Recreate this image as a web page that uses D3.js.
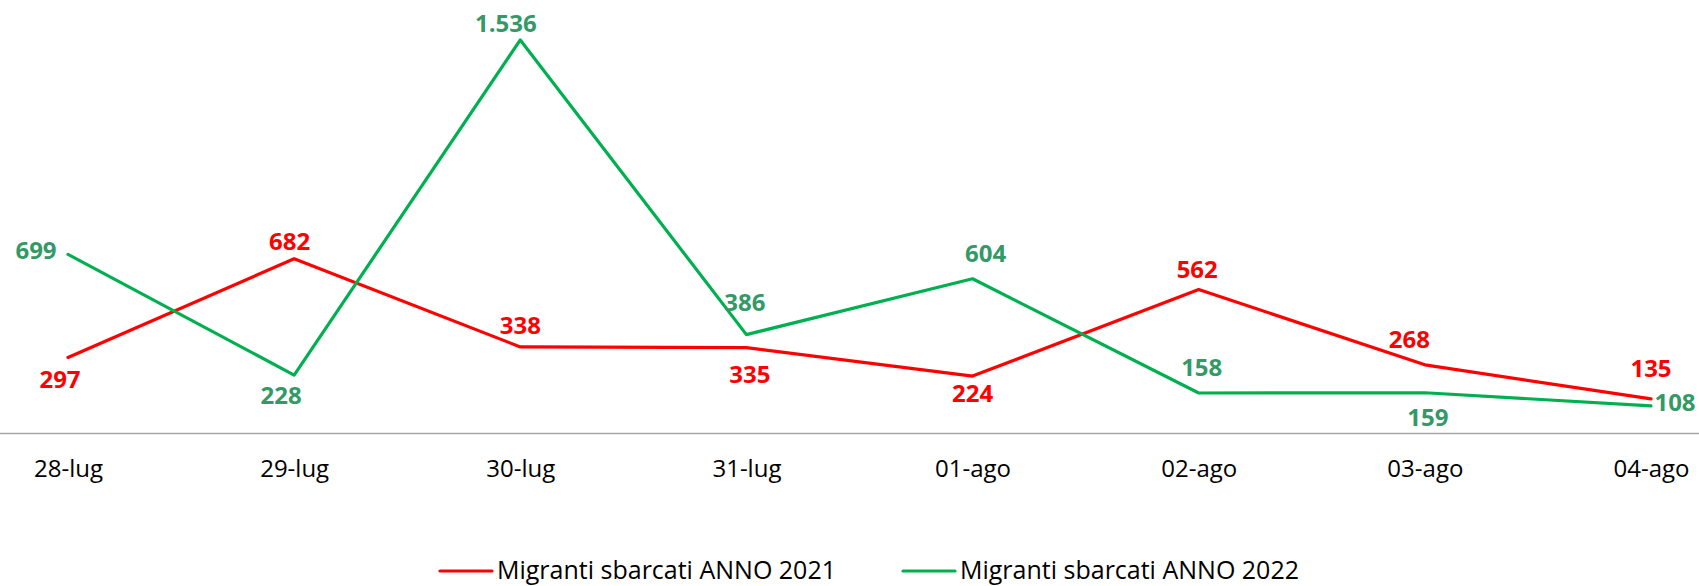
<!DOCTYPE html>
<html>
<head>
<meta charset="utf-8">
<script src="https://cdn.jsdelivr.net/npm/d3@7"></script>
<style>
  html, body { margin: 0; padding: 0; background: #ffffff; }
  svg { display: block; }
</style>
</head>
<body>
<svg id="chart" width="1699" height="586"></svg>
<script>
// ---- data ----
const categories = ["28-lug", "29-lug", "30-lug", "31-lug", "01-ago", "02-ago", "03-ago", "04-ago"];
const series2021 = [297, 682, 338, 335, 224, 562, 268, 135];
const series2022 = [699, 228, 1536, 386, 604, 158, 159, 108];
const seriesNames = ["Migranti sbarcati ANNO 2021", "Migranti sbarcati ANNO 2022"];

// label placement nudges (relative to each point: label centre offset in px)
const labelOffsets2021 = [[-8, 21.6], [-4.5, -17.5], [0, -21], [3.5, 27], [0, 17.5], [-1.5, -20], [-15.5, -25.5], [0, -30]];
const labelOffsets2022 = [[-32, -4.4], [-13, 20], [-14.5, -16], [-1.5, -32.6], [13, -25], [3, -26], [3, 25], [24, -3]];

// ---- layout ----
const W = 1699, H = 586;
const axisY = 433.5;
const svg = d3.select("#chart");

const x = d3.scalePoint().domain(categories).range([68, 1651]);
const y = d3.scaleLinear().domain([0, 1600]).range([axisY, axisY - 1600 * 0.2562]);

const fmt = d3.formatLocale({ decimal: ",", thousands: ".", grouping: [3], currency: ["€", ""] }).format(",d");

const colors = { line2021: "#FF0000", line2022: "#00B050", lab2021: "#FF0000", lab2022: "#339966" };
const font = "'Open Sans', 'DejaVu Sans', sans-serif";

// axis line
svg.append("line")
  .attr("x1", 0).attr("x2", W)
  .attr("y1", axisY).attr("y2", axisY)
  .attr("stroke", "#A6A6A6").attr("stroke-width", 1.5);

// category tick labels via d3 axis
const xAxis = d3.axisBottom(x).tickSize(0).tickPadding(0);
const gx = svg.append("g").attr("transform", `translate(0,${axisY})`).call(xAxis);
gx.select(".domain").remove();
gx.selectAll("text")
  .attr("y", 477 - axisY)
  .attr("dy", 0)
  .style("font-family", font)
  .style("font-size", "24px")
  .style("fill", "#000000");

// lines
const line = d3.line().x((d, i) => x(categories[i])).y(d => y(d));

function drawSeries(values, color) {
  svg.append("path")
    .datum(values)
    .attr("d", line)
    .attr("fill", "none")
    .attr("stroke", color)
    .attr("stroke-width", 3.2)
    .attr("stroke-linejoin", "round")
    .attr("stroke-linecap", "round");
}
function drawLabels(values, labColor, offsets) {
  svg.append("g").selectAll("text")
    .data(values)
    .join("text")
    .attr("x", (d, i) => x(categories[i]) + offsets[i][0])
    .attr("y", (d, i) => y(d) + offsets[i][1] + 8.5)
    .attr("text-anchor", "middle")
    .style("font-family", font)
    .style("font-size", "24px")
    .style("font-weight", "bold")
    .style("fill", labColor)
    .text(d => fmt(d));
}

drawSeries(series2021, colors.line2021);
drawSeries(series2022, colors.line2022);
drawLabels(series2021, colors.lab2021, labelOffsets2021);
drawLabels(series2022, colors.lab2022, labelOffsets2022);

// legend
const legendItems = [
  { name: seriesNames[0], color: colors.line2021, x0: 440 },
  { name: seriesNames[1], color: colors.line2022, x0: 903 }
];
const lg = svg.append("g");
legendItems.forEach(it => {
  lg.append("line")
    .attr("x1", it.x0).attr("x2", it.x0 + 52)
    .attr("y1", 571).attr("y2", 571)
    .attr("stroke", it.color).attr("stroke-width", 3.2)
    .attr("stroke-linecap", "round");
  lg.append("text")
    .attr("x", it.x0 + 57)
    .attr("y", 579)
    .style("font-family", font)
    .style("font-size", "25px")
    .style("fill", "#000000")
    .text(it.name);
});
</script>
</body>
</html>
